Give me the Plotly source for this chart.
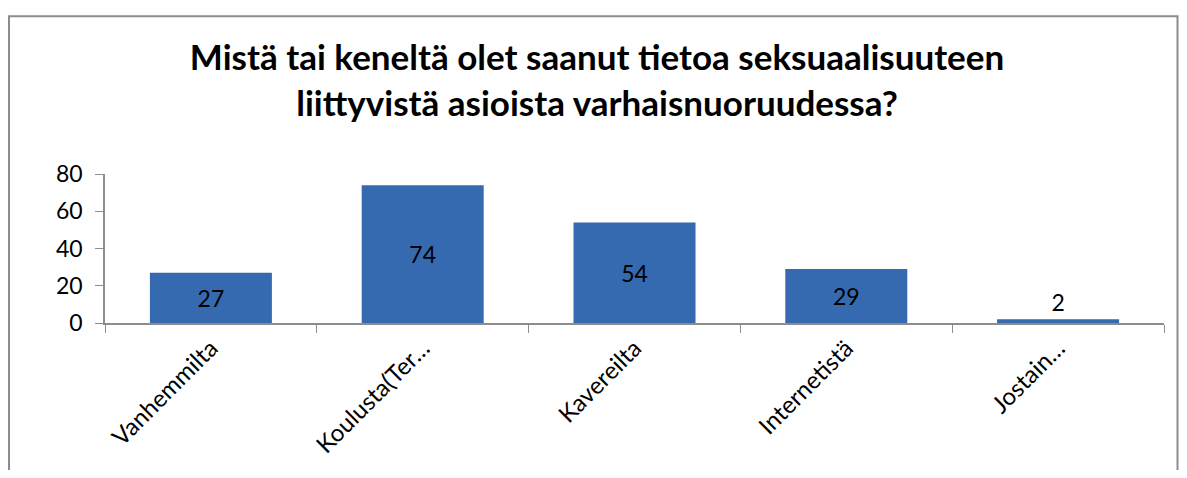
import plotly.graph_objects as go

categories = ["Vanhemmilta", "Koulusta(Ter…", "Kavereilta", "Internetistä", "Jostain…"]
values = [27, 74, 54, 29, 2]
title_text = "Mistä tai keneltä olet saanut tietoa seksuaalisuuteen<br>liittyvistä asioista varhaisnuoruudessa?"
y_ticks = [0, 20, 40, 60, 80]

FONT = "Lato"
OFF = 8  # default body margin of the page
W, H = 1187 - 2 * OFF, 478 - 2 * OFF   # avoid scrollbars
L, T = 105 - OFF, 174 - OFF
R = W - (1164 - OFF)
B = H - (326 - OFF)
pw, ph = W - L - R, H - T - B

text_pos = ["inside" if v > 10 else "outside" for v in values]

fig = go.Figure(go.Bar(
    x=categories, y=values,
    text=[str(v) for v in values],
    textposition=text_pos,
    insidetextanchor="middle",
    textfont=dict(family=FONT, size=23, color="black"),
    outsidetextfont=dict(family=FONT, size=23, color="black"),
    insidetextfont=dict(family=FONT, size=23, color="black"),
    marker=dict(color="#3569b0", line=dict(width=0)),
    width=0.576,
    cliponaxis=False,
))

def px2paper_x(px):
    return (px - OFF - L) / pw

def px2paper_y(py):
    return (H - B - (py - OFF)) / ph

fig.add_shape(type="rect", xref="paper", yref="paper",
              x0=px2paper_x(9), x1=px2paper_x(1177.5),
              y0=px2paper_y(540), y1=px2paper_y(13),
              line=dict(color="#8c8c8c", width=2), fillcolor="rgba(0,0,0,0)", layer="below")

fig.update_layout(
    width=W, height=H,
    margin=dict(l=L, r=R, t=T, b=B),
    paper_bgcolor="white", plot_bgcolor="white",
    title=dict(text=title_text, xref="container", x=(597 - OFF) / W, xanchor="center",
               yref="container", y=1 - (70 - OFF) / H, yanchor="middle",
               font=dict(family=FONT, size=35, color="black", weight="bold")),
    showlegend=False,
    font=dict(family=FONT, size=22, color="black"),
    bargap=0.424,
)
fig.update_xaxes(
    showline=True, linecolor="#8c8c8c", linewidth=1.5,
    ticks="outside", ticklen=8, tickcolor="#8c8c8c", tickson="boundaries",
    tickangle=-45, tickfont=dict(family=FONT, size=24, color="black"),
    showgrid=False,
)
fig.update_yaxes(
    range=[0, 80], tickvals=y_ticks,
    showline=True, linecolor="#8c8c8c", linewidth=1.5,
    ticks="outside", ticklen=8, tickcolor="#8c8c8c", ticklabelstandoff=8,
    tickfont=dict(family=FONT, size=23, color="black"),
    showgrid=False, zeroline=False,
)

fig.write_html("out.html")
